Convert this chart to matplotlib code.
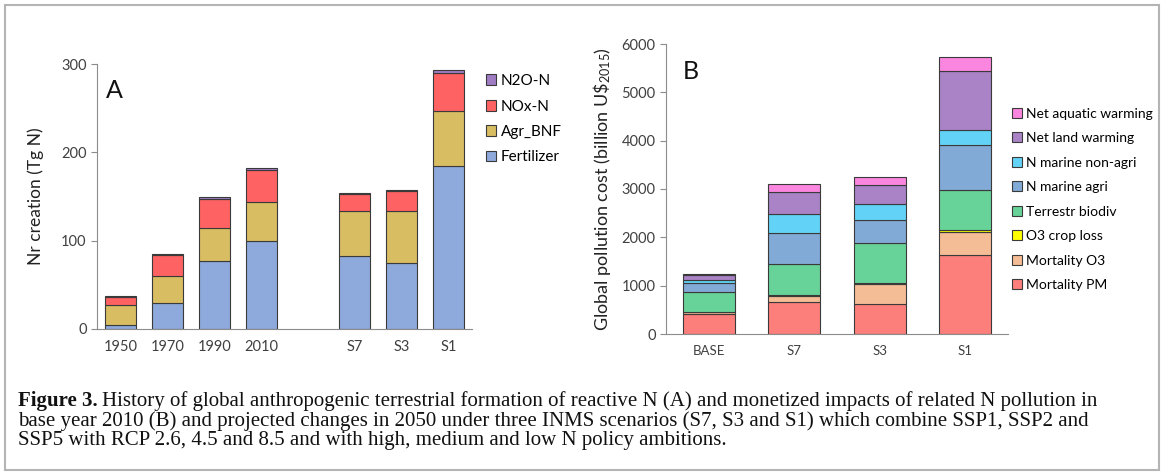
import matplotlib.pyplot as plt
import matplotlib.patches as mpatches
import numpy as np

plt.rcParams['font.family'] = ['Lato', 'DejaVu Sans']
plt.rcParams['mathtext.fontset'] = 'custom'
plt.rcParams['mathtext.rm'] = 'Lato'
plt.rcParams['mathtext.it'] = 'Lato:italic'

# panel A: Nr creation (Tg N)
years_a = ["1950", "1970", "1990", "2010", "S7", "S3", "S1"]
fertilizer = [4, 30, 77, 100, 83, 75, 185]
agr_bnf = [23, 30, 37, 44, 51, 59, 62]
nox_n = [9, 24, 33, 36, 19, 22, 43]
n2o_n = [1, 1, 2, 2, 1.5, 1.5, 3]

# panel B: global pollution cost (billion US$ 2015)
scen_b = ["BASE", "S7", "S3", "S1"]
mort_pm = [420, 665, 630, 1640]
mort_o3 = [30, 125, 400, 465]
o3_crop = [15, 25, 33, 40]
terr_biodiv = [405, 640, 823, 838]
marine_agri = [190, 635, 473, 926]
marine_nonagri = [60, 385, 330, 322]
land_warming = [95, 465, 390, 1220]
aquatic_warming = [30, 165, 178, 275]

caption = [
    "History of global anthropogenic terrestrial formation of reactive N (A) and monetized impacts of related N pollution in",
    "base year 2010 (B) and projected changes in 2050 under three INMS scenarios (S7, S3 and S1) which combine SSP1, SSP2 and",
    "SSP5 with RCP 2.6, 4.5 and 8.5 and with high, medium and low N policy ambitions.",
]

edge = '#3a3a3a'
axis_col = '#8c8c8c'
txt_col = '#404040'


def style_axis(ax):
    for s in ['top', 'right']:
        ax.spines[s].set_visible(False)
    ax.spines['left'].set_color(axis_col)
    ax.spines['bottom'].set_color(axis_col)
    ax.tick_params(axis='x', length=0, labelsize=10.5, labelcolor=txt_col, pad=8)
    ax.tick_params(axis='y', length=4, color=axis_col, labelsize=10.5, labelcolor=txt_col)


fig = plt.figure(figsize=(11.65, 4.74), dpi=100)

# panel A
ax1 = fig.add_axes([97 / 1165, 1 - 329 / 474, 375 / 1165, 265 / 474])
x_a = np.r_[np.arange(4), np.arange(5, 8)]
series_a = [("Fertilizer", fertilizer, '#8eaadc'),
            ("Agr_BNF", agr_bnf, '#d8bd62'),
            ("NOx-N", nox_n, '#ff6262'),
            ("N2O-N", n2o_n, '#a07cc4')]
bottom = np.zeros(len(x_a))
handles = []
for name, vals, col in series_a:
    h = ax1.bar(x_a, vals, 0.66, bottom=bottom, color=col, edgecolor=edge, linewidth=0.8, label=name)
    handles.append(h)
    bottom += np.array(vals)
ax1.set_xlim(-0.5, 7.5)
ax1.set_ylim(0, 300)
ax1.set_yticks([0, 100, 200, 300])
ax1.set_xticks(x_a)
ax1.set_xticklabels(years_a)
ax1.set_ylabel("Nr creation (Tg N)", fontsize=12.5, color='#222222', labelpad=12)
style_axis(ax1)
ax1.text(0.025, 0.87, "A", transform=ax1.transAxes, fontsize=18, color='#111111')
ax1.legend(handles[::-1], [h.get_label() for h in handles[::-1]], loc='upper left',
           bbox_to_anchor=(1.02, 0.985), frameon=False, fontsize=11, handlelength=0.7,
           handleheight=0.7, handletextpad=0.3, labelspacing=0.75, borderaxespad=0)

# panel B
ax2 = fig.add_axes([666 / 1165, 1 - 334 / 474, 342 / 1165, 290 / 474])
x_b = np.arange(len(scen_b))
series_b = [("Mortality PM", mort_pm, '#fd7f7b'),
            ("Mortality O3", mort_o3, '#f5bd95'),
            ("O3 crop loss", o3_crop, '#ffff00'),
            ("Terrestr biodiv", terr_biodiv, '#68d398'),
            ("N marine agri", marine_agri, '#81aad6'),
            ("N marine non-agri", marine_nonagri, '#62d3f6'),
            ("Net land warming", land_warming, '#aa83c7'),
            ("Net aquatic warming", aquatic_warming, '#fb86df')]
bottom = np.zeros(len(x_b))
handles = []
for name, vals, col in series_b:
    h = ax2.bar(x_b, vals, 0.61, bottom=bottom, color=col, edgecolor=edge, linewidth=0.8, label=name)
    handles.append(h)
    bottom += np.array(vals)
ax2.set_xlim(-0.5, 3.5)
ax2.set_ylim(0, 6000)
ax2.set_yticks(np.arange(0, 6001, 1000))
ax2.set_xticks(x_b)
ax2.set_xticklabels(scen_b)
ax2.set_ylabel("Global pollution cost (billion U\\$$_{2015}$)", fontsize=13, color='#222222', labelpad=6)
style_axis(ax2)
ax2.tick_params(axis='x', labelsize=9.5)
ax2.text(0.05, 0.88, "B", transform=ax2.transAxes, fontsize=18, color='#111111')
ax2.legend(handles[::-1], [h.get_label() for h in handles[::-1]], loc='upper left',
           bbox_to_anchor=(0.995, 0.80), frameon=False, fontsize=10, handlelength=0.75,
           handleheight=0.75, handletextpad=0.3, labelspacing=0.9, borderaxespad=0)

# caption
cap_kw = dict(fontsize=15, family='Liberation Serif', va='center', color='#111111')
t0 = fig.text(18 / 1165, 1 - 401 / 474, "Figure 3.", fontweight='bold', **cap_kw)
fig.canvas.draw()
bb = t0.get_window_extent()
fig.text((bb.x1 + 4) / 1165, 1 - 401 / 474, caption[0], **cap_kw)
fig.text(18 / 1165, 1 - 421 / 474, caption[1], **cap_kw)
fig.text(18 / 1165, 1 - 441 / 474, caption[2], **cap_kw)

# outer frame
fig.patches.append(mpatches.Rectangle((5 / 1165, 4 / 474), 1154 / 1165, 465 / 474,
                                      transform=fig.transFigure, fill=False,
                                      edgecolor='#b4b4b4', linewidth=1.5))

fig.savefig("out.png", dpi=100)
